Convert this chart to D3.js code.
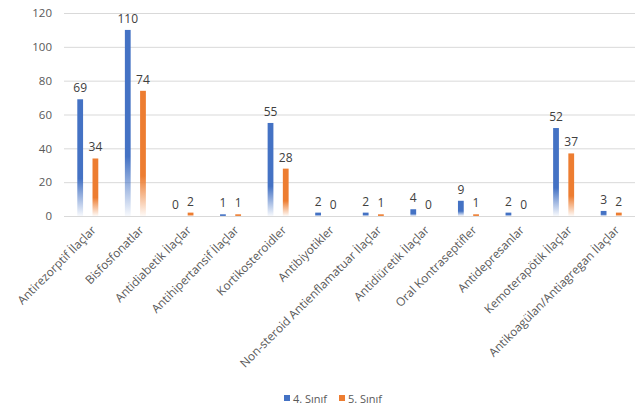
<!DOCTYPE html>
<html>
<head>
<meta charset="utf-8">
<script src="https://cdn.jsdelivr.net/npm/d3@7"></script>
<style>
  html, body { margin: 0; padding: 0; background: #fff; }
  svg { display: block; font-family: "Open Sans", "Noto Sans", sans-serif; }
</style>
</head>
<body>
<svg id="chart" width="643" height="410"></svg>
<script>
// Drug groups on the x axis
const categories = [
  "Antirezorptif İlaçlar",
  "Bisfosfonatlar",
  "Antidiabetik İlaçlar",
  "Antihipertansif İlaçlar",
  "Kortikosteroidler",
  "Antibiyotikler",
  "Non-steroid Antienflamatuar İlaçlar",
  "Antidiüretik İlaçlar",
  "Oral Kontraseptifler",
  "Antidepresanlar",
  "Kemoterapötik İlaçlar",
  "Antikoagülan/Antiagregan İlaçlar"
];
// Counts per class year
const sinif4 = [69, 110, 0, 1, 55, 2, 2, 4, 9, 2, 52, 3];
const sinif5 = [34, 74, 2, 1, 28, 0, 1, 0, 1, 0, 37, 2];
const seriesNames = ["4. Sınıf", "5. Sınıf"];
const seriesColors = ["#4472C4", "#ED7D31"];
const yTicks = [0, 20, 40, 60, 80, 100, 120];

const svg = d3.select("#chart");
const margin = { left: 64, right: 8, top: 13, bottom: 194 };
const W = 643, H = 410;
const plotW = W - margin.left - margin.right;
const plotH = H - margin.top - margin.bottom;

const x0 = d3.scaleBand().domain(categories).range([0, plotW]).paddingInner(0).paddingOuter(0);
const x1 = d3.scaleBand().domain(seriesNames).range([x0.bandwidth() / 2 - 10.5, x0.bandwidth() / 2 + 10.5]).paddingInner(0.62);
const y = d3.scaleLinear().domain([0, 120]).range([plotH, 0]);

// Vertical gradients: solid at the top, fading to white at the baseline
const defs = svg.append("defs");
seriesColors.forEach((c, i) => {
  const g = defs.append("linearGradient").attr("id", "grad" + i)
    .attr("x1", 0).attr("y1", 0).attr("x2", 0).attr("y2", 1);
  g.append("stop").attr("offset", "0").attr("stop-color", c);
  g.append("stop").attr("offset", "0.68").attr("stop-color", c);
  g.append("stop").attr("offset", "1").attr("stop-color", c).attr("stop-opacity", 0.04);
});

const g = svg.append("g").attr("transform", `translate(${margin.left},${margin.top})`);

// Gridlines and y labels
const yAxis = d3.axisLeft(y).tickValues(yTicks).tickSize(-plotW).tickPadding(12);
const ya = g.append("g").call(yAxis);
ya.select(".domain").remove();
ya.selectAll(".tick line").attr("stroke", "#d9d9d9").attr("stroke-width", 1);
ya.selectAll(".tick text").attr("fill", "#595959").style("font-size", "11.5px")
  .style("font-family", "'Open Sans', sans-serif");

// Bars
const data = categories.map((c, i) => ({ cat: c, vals: [sinif4[i], sinif5[i]] }));
const groups = g.selectAll(".grp").data(data).join("g")
  .attr("transform", d => `translate(${x0(d.cat)},0)`);

groups.selectAll("rect").data(d => d.vals.map((v, i) => ({ v, i })))
  .join("rect")
  .attr("x", d => x1(seriesNames[d.i]))
  .attr("width", x1.bandwidth())
  .attr("y", d => y(d.v))
  .attr("height", d => plotH - y(d.v))
  .attr("fill", d => `url(#grad${d.i})`);

// Value labels
groups.selectAll("text.val").data(d => d.vals.map((v, i) => ({ v, i })))
  .join("text").attr("class", "val")
  .attr("x", d => x1(seriesNames[d.i]) + x1.bandwidth() / 2)
  .attr("y", d => y(d.v) - 7)
  .attr("text-anchor", "middle")
  .attr("fill", "#404040")
  .style("font-size", "12px")
  .text(d => d.v);

// Category labels, rotated
const xa = g.append("g").attr("transform", `translate(0,${plotH})`);
xa.selectAll("text").data(categories).join("text")
  .attr("transform", d => `translate(${x0(d) + x0.bandwidth() / 2 + 6},${12}) rotate(-45)`)
  .attr("text-anchor", "end")
  .attr("dy", "0.35em")
  .attr("fill", "#595959")
  .style("font-size", "11.8px")
  .text(d => d);

// Legend
const legend = svg.append("g").attr("transform", `translate(0,399)`);
const legendX = [284, 339];
seriesNames.forEach((n, i) => {
  legend.append("rect").attr("x", legendX[i]).attr("y", -4).attr("width", 6).attr("height", 6)
    .attr("fill", seriesColors[i]);
  legend.append("text").attr("x", legendX[i] + 9).attr("y", 0).attr("dy", "0.35em")
    .attr("fill", "#595959").style("font-size", "11px").text(n);
});
</script>
</body>
</html>
